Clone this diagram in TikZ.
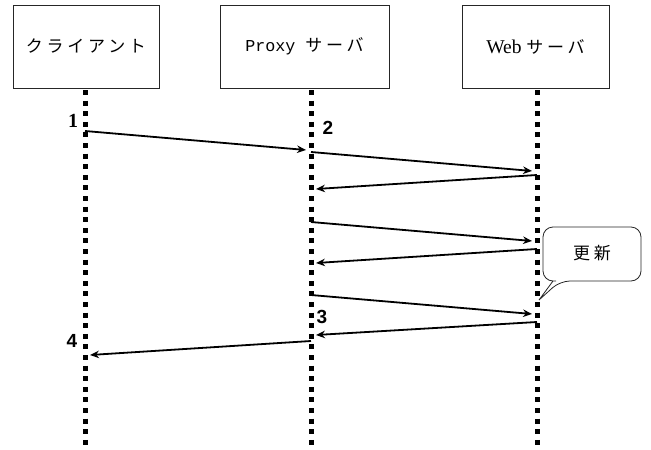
\documentclass[tikz,border=0pt]{standalone}
\usepackage{fontspec}
\setmainfont{Liberation Serif}
\newfontfamily\jp[LetterSpace=22]{Noto Sans CJK JP}
\newfontfamily\monof{Liberation Mono}
\newfontfamily\sansf{Liberation Sans}
\usetikzlibrary{arrows.meta}
\begin{document}
\begin{tikzpicture}[x=1pt,y=-1pt,
  actor/.style={draw=black!85,line width=0.9pt,minimum height=83pt,inner sep=0pt,font=\fontsize{19.5}{22}\selectfont},
  life/.style={line width=5pt,dash pattern=on 5pt off 5.6pt},
  msg/.style={line width=1.8pt,-{Stealth[length=9pt,width=7.5pt]}},
  numlab/.style={font=\sansf\bfseries\fontsize{19}{21}\selectfont,inner sep=0pt}]
\useasboundingbox (0,0) rectangle (651,450);
% actors
\node[actor,minimum width=146pt] (cl) at (86,46.5) {\jp\fontsize{17}{19}\selectfont クライアント};
\node[actor,minimum width=169pt] (px) at (304.5,46.5) {\monof\fontsize{16.7}{18}\selectfont Proxy {\jp\fontsize{17}{19}\selectfont サーバ}};
\node[actor,minimum width=147pt] (wb) at (535.5,46.5) {Web {\jp\fontsize{17}{19}\selectfont サーバ}};
% lifelines
\coordinate (clt) at (85,90); \coordinate (clb) at (85,452);
\coordinate (pxt) at (311,90); \coordinate (pxb) at (311,452);
\coordinate (wbt) at (537,90); \coordinate (wbb) at (537,452);
\draw[life] (clt) -- (clb);
\draw[life] (pxt) -- (pxb);
\draw[life] (wbt) -- (wbb);
% message points
\coordinate (m1s) at (85,131);  \coordinate (m1e) at (306,150);
\coordinate (m2s) at (311,152); \coordinate (m2e) at (532,171);
\coordinate (m3s) at (537,175); \coordinate (m3e) at (316,189);
\coordinate (m4s) at (311,222); \coordinate (m4e) at (532,241);
\coordinate (m5s) at (537,249); \coordinate (m5e) at (316,263);
\coordinate (m6s) at (311,295); \coordinate (m6e) at (532,314);
\coordinate (m7s) at (537,322); \coordinate (m7e) at (316,335);
\coordinate (m8s) at (311,341); \coordinate (m8e) at (90,355);
\draw[msg] (m1s) -- (m1e);
\draw[msg] (m2s) -- (m2e);
\draw[msg] (m3s) -- (m3e);
\draw[msg] (m4s) -- (m4e);
\draw[msg] (m5s) -- (m5e);
\draw[msg] (m6s) -- (m6e);
\draw[msg] (m7s) -- (m7e);
\draw[msg] (m8s) -- (m8e);
% labels
\node[numlab,font=\bfseries\fontsize{20}{22}\selectfont] (n1) at (73,121) {1};
\node[numlab] (n2) at (328,128) {2};
\node[numlab] (n3) at (322,317) {3};
\node[numlab] (n4) at (72,341) {4};
% callout
\coordinate (tip) at (539,300);
\draw[line width=0.8pt,draw=black!85,rounded corners=10pt]
  (556,281) -- (543,281) -- (543,227) -- (641,227) -- (641,281) -- (560,281) [sharp corners] -- (tip) -- (553,281) -- (556,281);
\node[inner sep=0pt] (upd) at (592,253) {\jp\fontsize{17}{19}\selectfont 更新};
\end{tikzpicture}
\end{document}
